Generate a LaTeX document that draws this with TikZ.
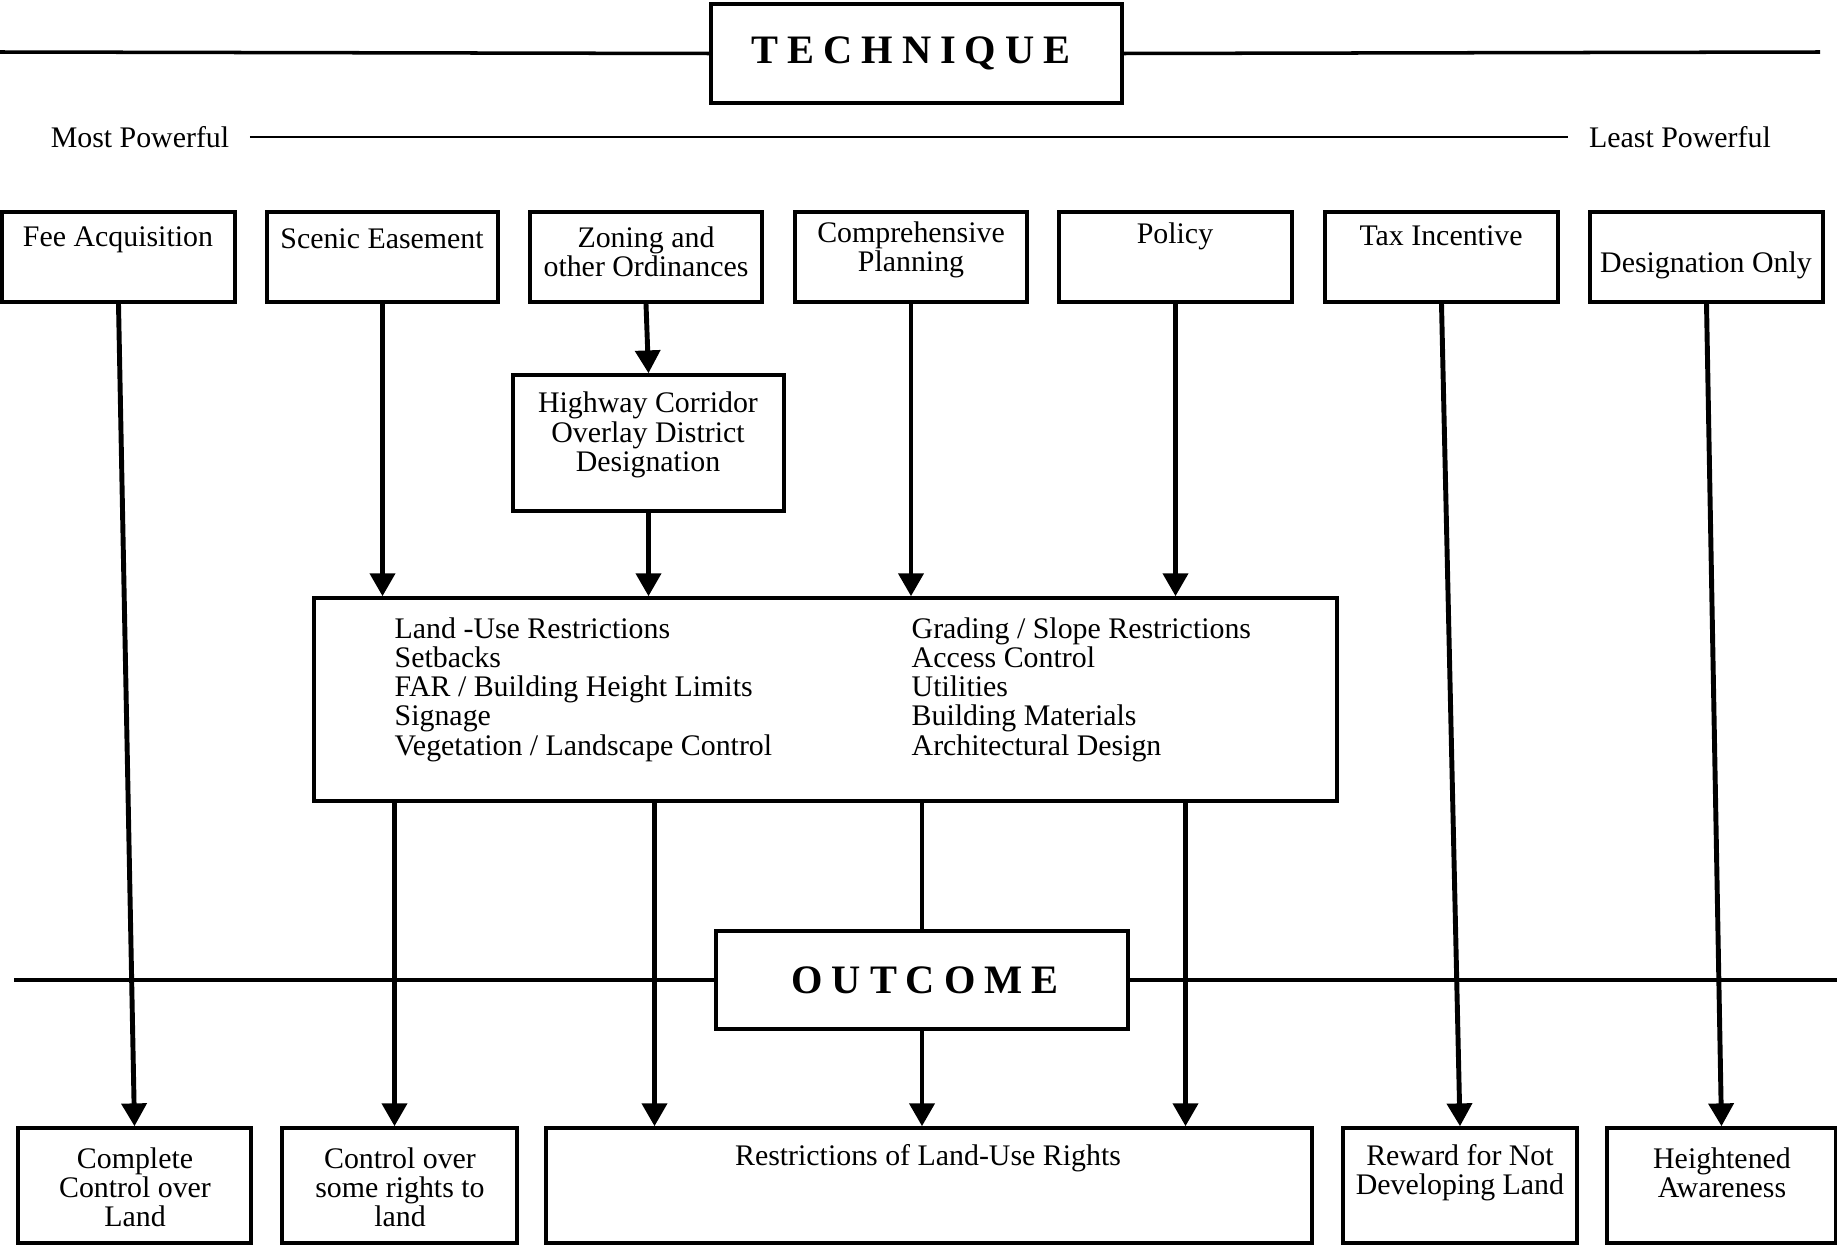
\documentclass[tikz,border=0pt]{standalone}
\usepackage{fontspec}
\setmainfont{Liberation Serif}
\newfontfamily\spacedfont[LetterSpace=22]{Liberation Serif}
\usetikzlibrary{arrows.meta,fit}

\tikzset{
  box/.style={draw, line width=1pt, inner sep=0pt},
  headbox/.style={draw, line width=1.2pt, inner sep=0pt},
  txt/.style={font=\fontsize{8.5}{8.3}\selectfont, align=center, inner sep=0pt},
  head/.style={font=\spacedfont\bfseries\fontsize{11.5}{12}\selectfont, inner sep=0pt},
  arr/.style={line width=1.4pt, -{Triangle[width=7pt,length=6.5pt]}},
  rule/.style={line width=1pt},
}

\begin{document}
\begin{tikzpicture}[x=0.1mm, y=-0.1mm]
                \useasboundingbox (0,0) rectangle (1837,1246);

                %% Technique header
                \node[headbox, fit={(711,4) (1122,103)}] (tech) {};
                \node[head] (techt) at (911,53) {TECHNIQUE};
                \draw[rule] (0,52) -- (tech.west);
                \draw[rule] (tech.east) -- (1820,52);

                \node[txt] (most) at (140,137) {Most Powerful};
                \node[txt] (least) at (1680,137) {Least Powerful};
                \draw[line width=0.7pt] ([xshift=2mm]most.east) -- ([xshift=-2mm]least.west);

                %% Techniques
                \node[box, fit={(2,212) (235,302)}] (fee) {};
                \node[box, fit={(267,212) (498,302)}] (scenic) {};
                \node[box, fit={(530,212) (762,302)}] (zoning) {};
                \node[box, fit={(795,212) (1027,302)}] (comp) {};
                \node[box, fit={(1059,212) (1292,302)}] (policy) {};
                \node[box, fit={(1325,212) (1558,302)}] (tax) {};
                \node[box, fit={(1590,212) (1823,302)}] (desig) {};

                \node[txt] (feet) at (118,240) {Fee Acquisition};
                \node[txt] (scenict) at (382,239) {Scenic Easement};
                \node[txt] (zoningt) at (646,252) {Zoning and\\other Ordinances};
                \node[txt] (compt) at (911,250) {Comprehensive\\Planning};
                \node[txt] (policyt) at (1175,236) {Policy};
                \node[txt] (taxt) at (1441,236) {Tax Incentive};
                \node[txt] (desigt) at (1706,265) {Designation Only};

                %Overlay
                \node[box, fit={(513,375) (784,511)}] (hwy) {};
                \node[txt] (hwyt) at (648,435) {Highway Corridor\\Overlay District\\Designation};

                %Restrictions
                \node[box, fit={(314,598) (1337,801)}] (mid) {};
                \node[txt, align=left, anchor=north west] (midl) at (394,617) {Land -Use Restrictions\\Setbacks\\FAR / Building Height Limits\\Signage\\Vegetation / Landscape Control};
                \node[txt, align=left, anchor=north west] (midr) at (911,617) {Grading / Slope Restrictions\\Access Control\\Utilities\\Building Materials\\Architectural Design};

                %% Outcome header
                \node[headbox, fit={(716,931) (1128,1029)}] (outc) {};
                \node[head] (outct) at (925,980) {OUTCOME};
                \draw[rule] (14,980) -- (outc.west);
                \draw[rule] (outc.east) -- (1837,980);

                %% Outcomes
                \node[box, fit={(18,1128) (251,1243)}] (complete) {};
                \node[box, fit={(282,1128) (517,1243)}] (control) {};
                \node[box, fit={(546,1128) (1312,1243)}] (restr) {};
                \node[box, fit={(1343,1128) (1577,1243)}] (reward) {};
                \node[box, fit={(1607,1128) (1836,1243)}] (height) {};

                \node[txt] (completet) at (135,1187) {Complete\\Control over\\Land};
                \node[txt] (controlt) at (400,1187) {Control over\\some rights to\\land};
                \node[txt] (restrt) at (928,1158) {Restrictions of Land-Use Rights};
                \node[txt] (rewardt) at (1460,1173) {Reward for Not\\Developing Land};
                \node[txt] (heightt) at (1722,1173) {Heightened\\Awareness};

                %% Arrows
                \draw[arr] (fee.south) -- (complete.north);
                \draw[arr] (scenic.south) -- (scenic.south |- mid.north);
                \draw[arr] ([xshift=-0.5mm]control.north |- mid.south) -- ([xshift=-0.5mm]control.north);
                \draw[arr] (zoning.south) -- (hwy.north);
                \draw[arr] (hwy.south) -- (hwy.south |- mid.north);
                \draw[arr] ([xshift=0.6mm]hwy.south |- mid.south) -- ([xshift=0.6mm]hwy.south |- restr.north);
                \draw[arr] (comp.south) -- (comp.south |- mid.north);
                \draw[line width=1.4pt] (outc.north |- mid.south) -- (outc.north);
                \draw[arr] (outc.south) -- (outc.south |- restr.north);
                \draw[arr] (policy.south) -- (policy.south |- mid.north);
                \draw[arr] ([xshift=1mm]policy.south |- mid.south) -- ([xshift=1mm]policy.south |- restr.north);
                \draw[arr] (tax.south) -- (reward.north);
                \draw[arr] (desig.south) -- (height.north);

\end{tikzpicture}
\end{document}
